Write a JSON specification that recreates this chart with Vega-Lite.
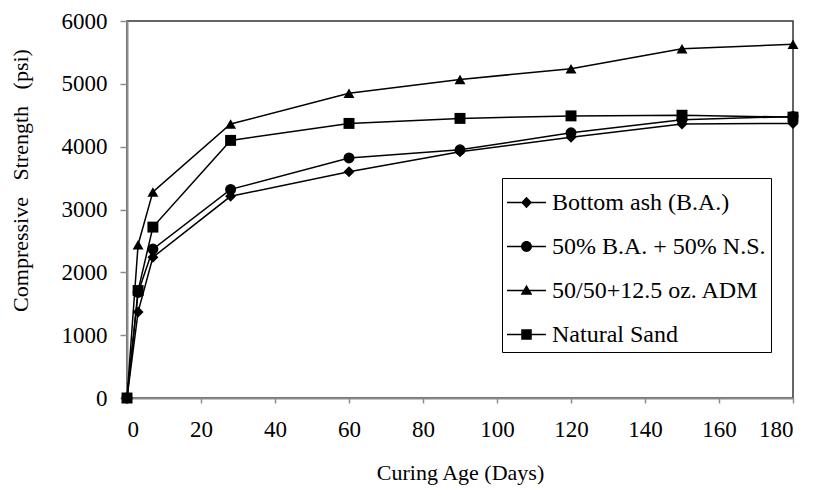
{
  "$schema": "https://vega.github.io/schema/vega-lite/v6.json",
  "width": 666,
  "height": 377,
  "autosize": {"type": "none"},
  "padding": {"left": 127, "top": 21, "right": 23, "bottom": 90},
  "background": "white",
  "config": {
    "font": "Liberation Serif",
    "view": {"stroke": "#333333", "strokeWidth": 1.5},
    "axis": {
      "grid": false,
      "domainColor": "#8c8c8c",
      "domainWidth": 2,
      "tickColor": "#8c8c8c",
      "tickWidth": 1.5,
      "labelFont": "Liberation Serif",
      "labelFontSize": 23,
      "labelColor": "black",
      "titleFont": "Liberation Serif",
      "titleFontSize": 22,
      "titleFontWeight": "normal",
      "titleColor": "black"
    }
  },
  "data": {
    "values": [
      {"series": "Bottom ash (B.A.)", "day": 0, "psi": 0},
      {"series": "Bottom ash (B.A.)", "day": 3, "psi": 1370},
      {"series": "Bottom ash (B.A.)", "day": 7, "psi": 2240},
      {"series": "Bottom ash (B.A.)", "day": 28, "psi": 3210},
      {"series": "Bottom ash (B.A.)", "day": 60, "psi": 3600},
      {"series": "Bottom ash (B.A.)", "day": 90, "psi": 3920},
      {"series": "Bottom ash (B.A.)", "day": 120, "psi": 4150},
      {"series": "Bottom ash (B.A.)", "day": 150, "psi": 4360},
      {"series": "Bottom ash (B.A.)", "day": 180, "psi": 4370},
      {"series": "50% B.A. + 50% N.S.", "day": 0, "psi": 0},
      {"series": "50% B.A. + 50% N.S.", "day": 3, "psi": 1680},
      {"series": "50% B.A. + 50% N.S.", "day": 7, "psi": 2370},
      {"series": "50% B.A. + 50% N.S.", "day": 28, "psi": 3320},
      {"series": "50% B.A. + 50% N.S.", "day": 60, "psi": 3820},
      {"series": "50% B.A. + 50% N.S.", "day": 90, "psi": 3950},
      {"series": "50% B.A. + 50% N.S.", "day": 120, "psi": 4220},
      {"series": "50% B.A. + 50% N.S.", "day": 150, "psi": 4430},
      {"series": "50% B.A. + 50% N.S.", "day": 180, "psi": 4480},
      {"series": "50/50+12.5 oz. ADM", "day": 0, "psi": 0},
      {"series": "50/50+12.5 oz. ADM", "day": 3, "psi": 2440},
      {"series": "50/50+12.5 oz. ADM", "day": 7, "psi": 3280},
      {"series": "50/50+12.5 oz. ADM", "day": 28, "psi": 4360},
      {"series": "50/50+12.5 oz. ADM", "day": 60, "psi": 4850},
      {"series": "50/50+12.5 oz. ADM", "day": 90, "psi": 5070},
      {"series": "50/50+12.5 oz. ADM", "day": 120, "psi": 5240},
      {"series": "50/50+12.5 oz. ADM", "day": 150, "psi": 5560},
      {"series": "50/50+12.5 oz. ADM", "day": 180, "psi": 5630},
      {"series": "Natural Sand", "day": 0, "psi": 0},
      {"series": "Natural Sand", "day": 3, "psi": 1710},
      {"series": "Natural Sand", "day": 7, "psi": 2720},
      {"series": "Natural Sand", "day": 28, "psi": 4100},
      {"series": "Natural Sand", "day": 60, "psi": 4370},
      {"series": "Natural Sand", "day": 90, "psi": 4450},
      {"series": "Natural Sand", "day": 120, "psi": 4490},
      {"series": "Natural Sand", "day": 150, "psi": 4500},
      {"series": "Natural Sand", "day": 180, "psi": 4470}
    ]
  },
  "encoding": {
    "x": {
      "field": "day",
      "type": "quantitative",
      "scale": {"domain": [0, 180], "nice": false},
      "axis": {
        "values": [0, 20, 40, 60, 80, 100, 120, 140, 160, 180],
        "format": "d",
        "tickSize": 5,
        "labelPadding": 15,
        "title": "Curing Age (Days)",
        "titlePadding": 21
      }
    },
    "y": {
      "field": "psi",
      "type": "quantitative",
      "scale": {"domain": [0, 6000], "nice": false},
      "axis": {
        "values": [0, 1000, 2000, 3000, 4000, 5000, 6000],
        "format": "d",
        "tickSize": 7,
        "labelPadding": 13,
        "title": "Compressive\u00a0\u00a0\u00a0Strength\u00a0\u00a0\u00a0(psi)",
        "titleX": -100,
        "titleY": 159,
        "titleAngle": -90,
        "titleAlign": "center",
        "titleBaseline": "alphabetic"
      }
    }
  },
  "layer": [
    {
      "mark": {"type": "line", "color": "black", "strokeWidth": 1.5},
      "encoding": {"detail": {"field": "series"}}
    },
    {
      "mark": {"type": "point", "filled": true, "color": "black", "opacity": 1, "size": 120},
      "encoding": {
        "shape": {
          "field": "series",
          "type": "nominal",
          "sort": null,
          "scale": {
            "domain": ["Bottom ash (B.A.)", "50% B.A. + 50% N.S.", "50/50+12.5 oz. ADM", "Natural Sand"],
            "range": ["diamond", "circle", "triangle-up", "square"]
          },
          "legend": null
        }
      }
    },
    {
      "mark": {"type": "point", "filled": true, "color": "black", "opacity": 0, "size": 1},
      "encoding": {
        "shape": {
          "field": "series",
          "type": "nominal",
          "sort": null,
          "scale": {
            "domain": ["Bottom ash (B.A.)", "50% B.A. + 50% N.S.", "50/50+12.5 oz. ADM", "Natural Sand"],
            "range": [
              "M-1,-0.035H1V0.035H-1ZM0,-0.3L0.28,0L0,0.3L-0.28,0Z",
              "M-1,-0.035H1V0.035H-1ZM-0.28,0A0.28,0.28 0 1,1 0.28,0A0.28,0.28 0 1,1 -0.28,0Z",
              "M-1,-0.035H1V0.035H-1ZM0,-0.3L0.3,0.22L-0.3,0.22Z",
              "M-1,-0.035H1V0.035H-1ZM-0.27,-0.27H0.27V0.27H-0.27Z"
            ]
          },
          "legend": {
            "title": null,
            "orient": "none",
            "legendX": 375,
            "legendY": 157,
            "padding": 5,
            "strokeColor": "black",
            "fillColor": "white",
            "symbolSize": 1521,
            "symbolFillColor": "black",
            "symbolStrokeColor": "black",
            "symbolStrokeWidth": 0,
            "symbolOpacity": 1,
            "rowPadding": 12,
            "labelOffset": 6,
            "labelFont": "Liberation Serif",
            "labelFontSize": 24,
            "labelColor": "black",
            "labelLimit": 400
          }
        }
      }
    }
  ],
  "resolve": {"scale": {"shape": "independent"}}
}
